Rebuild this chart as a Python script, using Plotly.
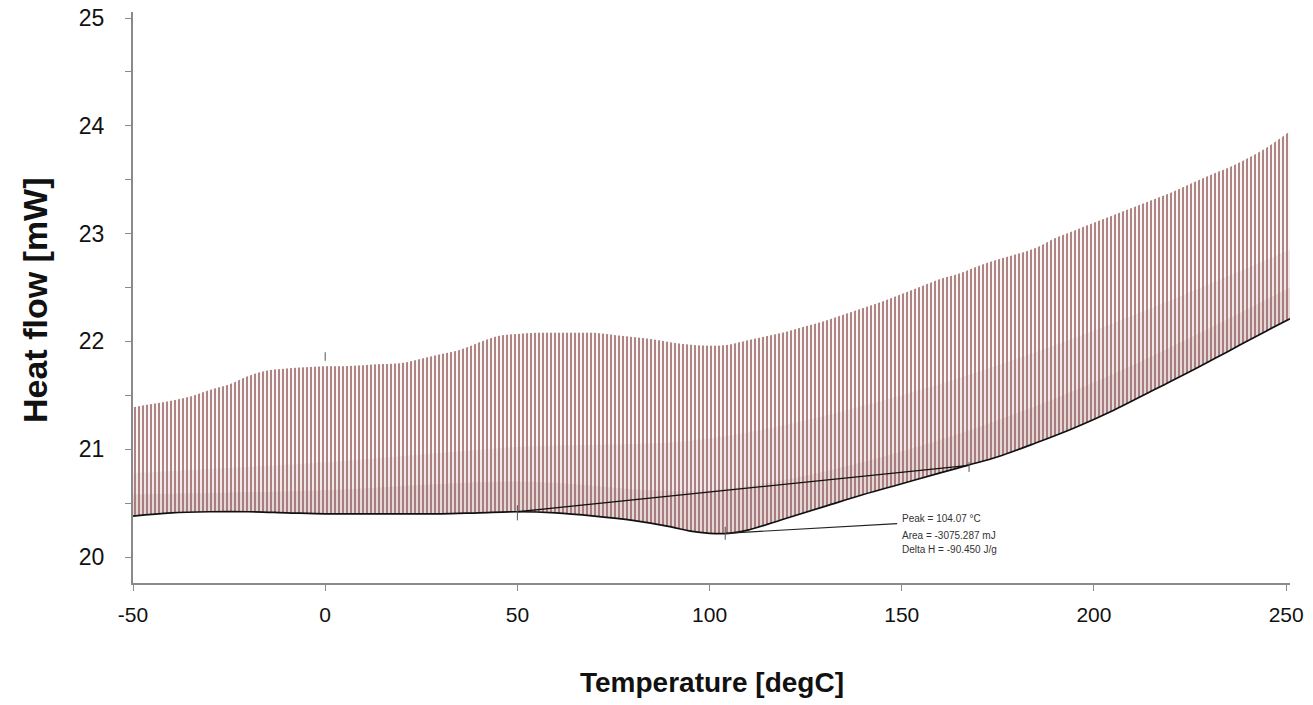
import plotly.graph_objects as go

# ---------------- data ----------------
temp_upper = [-50, -45, -40, -35, -30, -25, -20, -15, -10, -5, 0, 5, 10, 15, 20, 25, 30, 35, 40,
              45, 50, 55, 60, 65, 70, 75, 80, 85, 90, 95, 100, 105, 110, 115, 120, 125, 130, 135,
              140, 145, 150, 155, 160, 165, 170, 175, 180, 185, 190, 195, 200, 205, 210, 215, 220,
              225, 230, 235, 240, 245, 251]
hf_upper = [21.39, 21.42, 21.45, 21.49, 21.55, 21.60, 21.68, 21.73, 21.75, 21.76, 21.77, 21.77,
            21.78, 21.79, 21.80, 21.84, 21.88, 21.92, 21.99, 22.05, 22.07, 22.08, 22.08, 22.08,
            22.08, 22.06, 22.04, 22.02, 21.99, 21.97, 21.96, 21.97, 22.01, 22.05, 22.09, 22.14,
            22.19, 22.25, 22.31, 22.37, 22.44, 22.51, 22.58, 22.63, 22.70, 22.76, 22.81, 22.87,
            22.96, 23.03, 23.10, 23.17, 23.24, 23.31, 23.38, 23.46, 23.54, 23.61, 23.70, 23.80,
            23.95]

temp_lower = [-50, -40, -30, -20, -10, 0, 10, 20, 30, 40, 50, 60, 70, 80, 90, 95, 100, 105, 110,
              120, 130, 140, 150, 160, 167, 175, 185, 195, 205, 215, 225, 235, 245, 251]
hf_lower = [20.38, 20.41, 20.42, 20.42, 20.41, 20.40, 20.40, 20.40, 20.40, 20.41, 20.42, 20.41,
            20.38, 20.34, 20.28, 20.24, 20.22, 20.22, 20.25, 20.36, 20.47, 20.58, 20.68, 20.78,
            20.85, 20.93, 21.06, 21.20, 21.36, 21.54, 21.72, 21.91, 22.10, 22.21]

# upper edges of the denser (overlapping) lower part of the oscillation
temp_dense = [-50, 0, 50, 100, 150, 200, 251]
hf_dense_outer = [20.78, 20.88, 21.02, 21.10, 21.50, 22.10, 22.85]
hf_dense_inner = [20.58, 20.62, 20.70, 20.62, 20.98, 21.62, 22.50]

baseline_T = [50.0, 167.5]
baseline_hf = [20.42, 20.85]

peak_T, peak_hf = 104.07, 20.22
label_T, label_hf = 148.8, 20.31
label_lines = ["Peak = 104.07 °C", "Area = -3075.287 mJ", "Delta H = -90.450 J/g"]
label_hf_rows = [20.36, 20.20, 20.07]

marker_T = [0.0, 50.0, 104.07, 167.5]
marker_lo = [21.82, 20.34, 20.16, 20.79]
marker_hi = [21.90, 20.48, 20.28, 20.88]

x_ticks = [-50, 0, 50, 100, 150, 200, 250]
y_ticks = [20, 20.5, 21, 21.5, 22, 22.5, 23, 23.5, 24, 24.5, 25]
y_ticktext = [str(int(v)) if v == int(v) else "" for v in y_ticks]

FONT = "Liberation Sans, Arial, sans-serif"

fig = go.Figure()


def band(x_lo, y_lo, x_hi, y_hi, **fill_kw):
    fig.add_trace(go.Scatter(x=x_lo, y=y_lo, mode="lines", line=dict(width=0, shape="spline"),
                             hoverinfo="skip", showlegend=False))
    fig.add_trace(go.Scatter(x=x_hi, y=y_hi, mode="lines", line=dict(width=0, shape="spline"),
                             fill="tonexty", hoverinfo="skip", showlegend=False, **fill_kw))


# modulated signal: dense vertical oscillations (light halo + dark core)
band(temp_lower, hf_lower, temp_upper, hf_upper, fillcolor="white",
     fillpattern=dict(shape="|", size=4, solidity=0.55, fgcolor="#d2b4b4",
                      bgcolor="white", fillmode="replace"))
band(temp_lower, hf_lower, temp_upper, hf_upper, fillcolor="rgba(0,0,0,0)",
     fillpattern=dict(shape="|", size=4, solidity=0.22, fgcolor="#804646",
                      bgcolor="rgba(0,0,0,0)", fillmode="replace"))
# denser lower part
band(temp_lower, hf_lower, temp_dense, hf_dense_outer, fillcolor="rgba(150,95,95,0.09)")
band(temp_lower, hf_lower, temp_dense, hf_dense_inner, fillcolor="rgba(150,95,95,0.12)")

# black lower curve
fig.add_trace(go.Scatter(x=temp_lower, y=hf_lower, mode="lines",
                         line=dict(color="#111111", width=1.7, shape="spline"),
                         hoverinfo="skip", showlegend=False))
# integration baseline
fig.add_trace(go.Scatter(x=baseline_T, y=baseline_hf, mode="lines",
                         line=dict(color="#111111", width=1.3),
                         hoverinfo="skip", showlegend=False))
# leader line to the peak label
fig.add_trace(go.Scatter(x=[peak_T, label_T], y=[peak_hf, label_hf], mode="lines",
                         line=dict(color="#222222", width=1.2),
                         hoverinfo="skip", showlegend=False))
# small marker ticks
for t, lo, hi in zip(marker_T, marker_lo, marker_hi):
    fig.add_trace(go.Scatter(x=[t, t], y=[lo, hi], mode="lines",
                             line=dict(color="#555555", width=1),
                             hoverinfo="skip", showlegend=False))

for txt, yv in zip(label_lines, label_hf_rows):
    fig.add_annotation(x=label_T + 0.8, y=yv, text=txt, showarrow=False, xanchor="left",
                       yanchor="middle", font=dict(family=FONT, size=10, color="#333333"))

# axis titles
fig.add_annotation(text="<b>Temperature [degC]</b>", xref="paper", yref="paper", x=0.5, y=-0.175,
                   showarrow=False, xanchor="center", yanchor="middle",
                   font=dict(family=FONT, size=28, color="#111111"))
fig.add_annotation(text="<b>Heat flow [mW]</b>", xref="paper", yref="paper", x=-0.0847, y=0.4956,
                   showarrow=False, xanchor="center", yanchor="middle", textangle=-90,
                   font=dict(family=FONT, size=34, color="#111111"))

fig.update_layout(
    width=1313, height=705,
    margin=dict(l=133, r=23, t=12, b=122, autoexpand=False),
    paper_bgcolor="white", plot_bgcolor="white",
    font=dict(family=FONT, color="#111111"),
    showlegend=False,
    xaxis=dict(range=[-50, 251], tickvals=x_ticks, ticktext=[str(v) for v in x_ticks],
               automargin=False, ticklabeloverflow="allow",
               showgrid=False, zeroline=False, showline=True, linecolor="#8a8a8a", linewidth=2,
               ticks="outside", ticklen=6, tickcolor="#8a8a8a", tickwidth=1,
               tickfont=dict(family=FONT, size=21, color="#111111"),
               ticklabelstandoff=6),
    yaxis=dict(range=[19.759, 25.056], tickvals=y_ticks, ticktext=y_ticktext,
               automargin=False, ticklabeloverflow="allow",
               showgrid=False, zeroline=False, showline=True, linecolor="#8a8a8a", linewidth=2,
               ticks="outside", ticklen=6, tickcolor="#8a8a8a", tickwidth=1,
               tickfont=dict(family=FONT, size=23, color="#111111"), ticklabelstandoff=16),
)

# remove the default page margin so the figure fills the window exactly
fig.write_html("out.html", config={"displayModeBar": False},
               post_script="document.body.style.margin='0';")
